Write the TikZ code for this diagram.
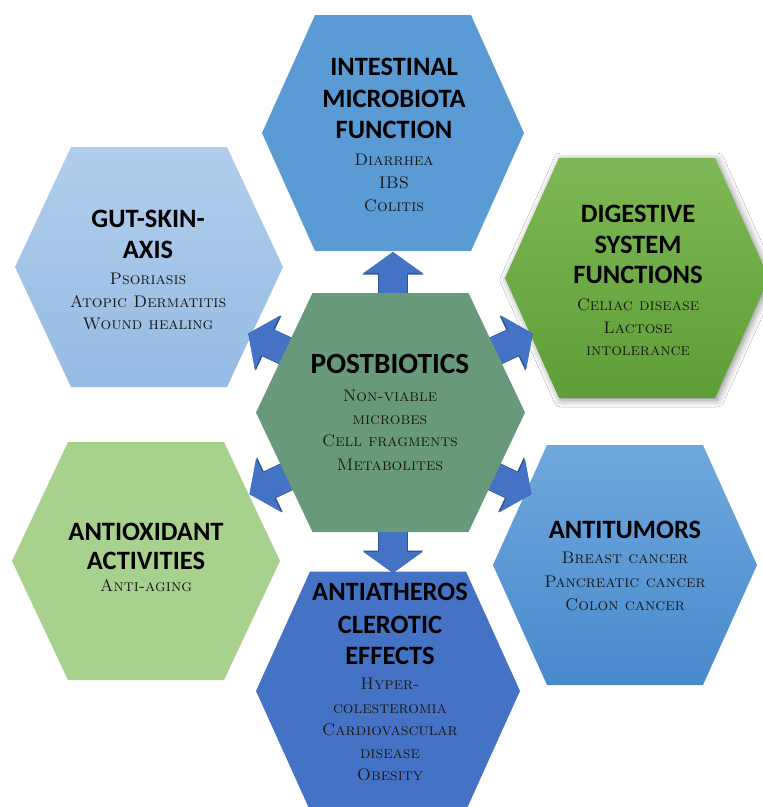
\documentclass[tikz,border=0pt]{standalone}
\usepackage{fontspec}
\newfontfamily\titlefont{Carlito}
\usetikzlibrary{arrows.meta,shadows,shadows.blur}
\definecolor{cCenter}{RGB}{104,153,123}
\definecolor{cTop}{RGB}{91,155,213}
\definecolor{cGutTop}{RGB}{177,205,236}
\definecolor{cGutBot}{RGB}{150,187,228}
\definecolor{cDigTop}{RGB}{126,184,86}
\definecolor{cDigBot}{RGB}{94,158,54}
\definecolor{cOx}{RGB}{169,209,142}
\definecolor{cTumTop}{RGB}{112,168,221}
\definecolor{cTumBot}{RGB}{72,137,205}
\definecolor{cAth}{RGB}{68,114,196}
\definecolor{arrowFill}{RGB}{68,114,196}
\definecolor{arrowEdge}{RGB}{47,82,150}
\newcommand\HexT{78}
% #1 cx, #2 cy, #3 half width, #4 half height, #5 style
\newcommand\HexShape[5]{\path[#5] ({#1-#3},{#2}) -- ({#1-\HexT},{#2-#4}) -- ({#1+\HexT},{#2-#4}) -- ({#1+#3},{#2}) -- ({#1+\HexT},{#2+#4}) -- ({#1-\HexT},{#2+#4}) -- cycle;}
\newcommand\TL[5][26.5]{\node[titletext,font=\titlefont\bfseries\fontsize{#1}{#1}\selectfont] (#2) at (#3,#4) {#5};}
\newcommand\SL[4]{\node[subtext] (#1) at (#2,#3) {#4};}
\begin{document}
\begin{tikzpicture}[x=1pt,y=-1pt,
  titletext/.style={anchor=base, inner sep=0pt, text=black},
  subtext/.style={anchor=base, inner sep=0pt, text=black!90, font=\fontsize{16.8}{16.8}\selectfont\scshape},
  arrowout/.style={line width=29.4pt, draw=arrowEdge, -{Triangle[width=60pt,length=22.5pt]}},
  arrowin/.style={line width=28pt, draw=arrowFill, -{Triangle[width=58pt,length=21pt]}},
  digshadow/.style={blur shadow={shadow xshift=2pt, shadow yshift=-2pt, shadow blur radius=7pt, shadow opacity=45}}]
\useasboundingbox (0,0) rectangle (763,807);
\fill[white] (0,0) rectangle (763,807);

% outer hexagons
\HexShape{393}{133}{131}{118}{fill=cTop}
\HexShape{149}{267}{134}{120}{top color=cGutTop, bottom color=cGutBot}
\HexShape{637}{278}{132}{120}{digshadow, top color=cDigTop, bottom color=cDigBot}
\HexShape{146}{561}{134}{119}{fill=cOx}
\HexShape{625}{565}{132}{120}{top color=cTumTop, bottom color=cTumBot}
\HexShape{388}{691}{132}{119.5}{fill=cAth}

% arrow coordinates (start inside the centre hexagon, free end at the tip)
\coordinate (sN)  at (393,299);    \coordinate (eN)  at (393,252);
\coordinate (sS)  at (393,526);    \coordinate (eS)  at (393,573);
\coordinate (sNW) at (290.7,353.4); \coordinate (eNW) at (248.2,333.5);
\coordinate (sNE) at (490.3,353.4); \coordinate (eNE) at (532.8,333.5);
\coordinate (sSW) at (292.0,474.3); \coordinate (eSW) at (249.5,494.2);
\coordinate (sSE) at (489.0,474.3); \coordinate (eSE) at (531.5,494.2);
\foreach \d in {N,S,NW,NE,SW,SE}{
  \draw[arrowout] (s\d) -- (e\d);
  \draw[arrowin] (s\d) -- (e\d);
}

% centre hexagon
\HexShape{390.5}{412.5}{134.5}{119.5}{fill=cCenter}

% texts
\TL{top1}{394}{75}{INTESTINAL}
\TL{top2}{394}{107}{MICROBIOTA}
\TL{top3}{394}{138}{FUNCTION}
\SL{top4}{394}{165}{Diarrhea}
\SL{top5}{394}{188}{IBS}
\SL{top6}{394}{211}{Colitis}

\TL{gut1}{148}{227}{GUT-SKIN-}
\TL{gut2}{148}{258}{AXIS}
\SL{gut3}{148}{284}{Psoriasis}
\SL{gut4}{148}{307}{Atopic Dermatitis}
\SL{gut5}{148}{329}{Wound healing}

\TL{dig1}{638}{222}{DIGESTIVE}
\TL{dig2}{638}{253}{SYSTEM}
\TL{dig3}{638}{283}{FUNCTIONS}
\SL{dig4}{638}{310}{Celiac disease}
\SL{dig5}{638}{333}{Lactose}
\SL{dig6}{638}{355}{intolerance}

\TL[29.3]{cen1}{390}{373.5}{POSTBIOTICS}
\SL{cen2}{390}{401.5}{Non-viable}
\SL{cen3}{390}{424}{microbes}
\SL{cen4}{390}{446.5}{Cell fragments}
\SL{cen5}{390}{470}{Metabolites}

\TL{ox1}{146}{540}{ANTIOXIDANT}
\TL{ox2}{146}{569}{ACTIVITIES}
\SL{ox3}{146}{591}{Anti-aging}

\TL{tum1}{625}{538}{ANTITUMORS}
\SL{tum2}{625}{563}{Breast cancer}
\SL{tum3}{625}{587}{Pancreatic cancer}
\SL{tum4}{625}{610}{Colon cancer}

\TL{ath1}{390}{600}{ANTIATHEROS}
\TL{ath2}{390}{633}{CLEROTIC}
\TL{ath3}{390}{664}{EFFECTS}
\SL{ath4}{390}{689}{Hyper-}
\SL{ath5}{390}{713}{colesteromia}
\SL{ath6}{390}{735}{Cardiovascular}
\SL{ath7}{390}{758}{disease}
\SL{ath8}{390}{780}{Obesity}
\end{tikzpicture}
\end{document}
